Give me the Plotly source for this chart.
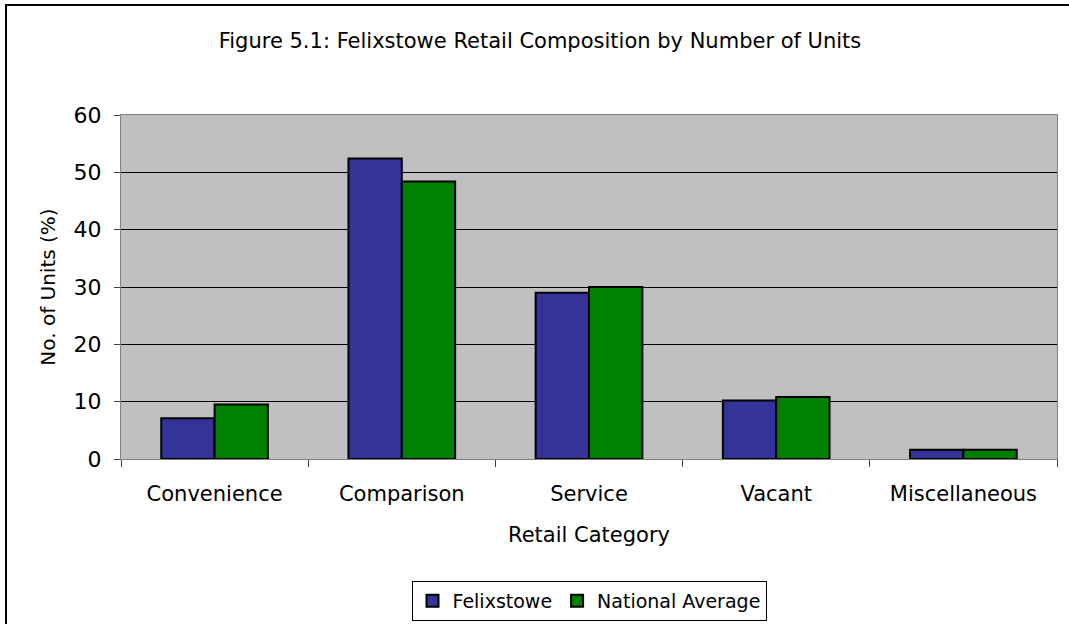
import plotly.graph_objects as go

categories = ["Convenience", "Comparison", "Service", "Vacant", "Miscellaneous"]
felixstowe = [7.1, 52.4, 29.0, 10.2, 1.6]
national = [9.5, 48.4, 30.0, 10.8, 1.6]
y_ticks = [0, 10, 20, 30, 40, 50, 60]

FONT = "DejaVu Sans"
W, H = 1069, 624
L, R, T, B = 121, 12, 115, 165
pw, ph = W - L - R, H - T - B

fig = go.Figure()
fig.add_bar(x=categories, y=felixstowe, name="Felixstowe",
            marker=dict(color="#333399", line=dict(color="black", width=2)))
fig.add_bar(x=categories, y=national, name="National Average",
            marker=dict(color="#008000", line=dict(color="black", width=2)))

fig.update_layout(
    width=W, height=H,
    margin=dict(l=L, r=R, t=T, b=B, autoexpand=False),
    paper_bgcolor="white", plot_bgcolor="#C0C0C0",
    font=dict(family=FONT, size=19, color="black"),
    barmode="group", bargap=0.43, bargroupgap=0,
    title=dict(text="Figure 5.1: Felixstowe Retail Composition by Number of Units",
               x=540 / W, xanchor="center", y=1 - 41 / H, yanchor="middle",
               font=dict(size=21)),
    xaxis=dict(showgrid=False, ticks="outside", tickson="boundaries", ticklen=7,
               tickcolor="#404040", showline=True, linecolor="#808080", linewidth=1,
               mirror=True, ticklabelstandoff=16, tickfont=dict(size=21),
               title=dict(text="Retail Category", standoff=22, font=dict(size=21))),
    yaxis=dict(range=[0, 60], tickvals=y_ticks, showgrid=True, gridcolor="black",
               gridwidth=1, ticks="outside", ticklen=6, tickcolor="#404040",
               showline=True, linecolor="#808080", linewidth=1, mirror=True,
               zeroline=False, tickfont=dict(size=22), ticklabelstandoff=8,
               title=dict(text="No. of Units (%)", standoff=12, font=dict(size=20))),
    legend=dict(orientation="h", x=0.5, xanchor="center",
                y=(H - B - 581) / ph, yanchor="top",
                bordercolor="black", borderwidth=1, bgcolor="white",
                font=dict(size=19), itemsizing="constant", traceorder="normal",
                itemwidth=30),
    showlegend=True,
)

# outer chart frame
fig.add_shape(type="rect", xref="paper", yref="paper",
              x0=(6 - L) / pw, x1=(W + 20 - L) / pw,
              y0=-(B + 20) / ph, y1=1 + (T - 5) / ph,
              line=dict(color="black", width=2), fillcolor="rgba(0,0,0,0)", layer="below")

fig.write_html("out.html")
